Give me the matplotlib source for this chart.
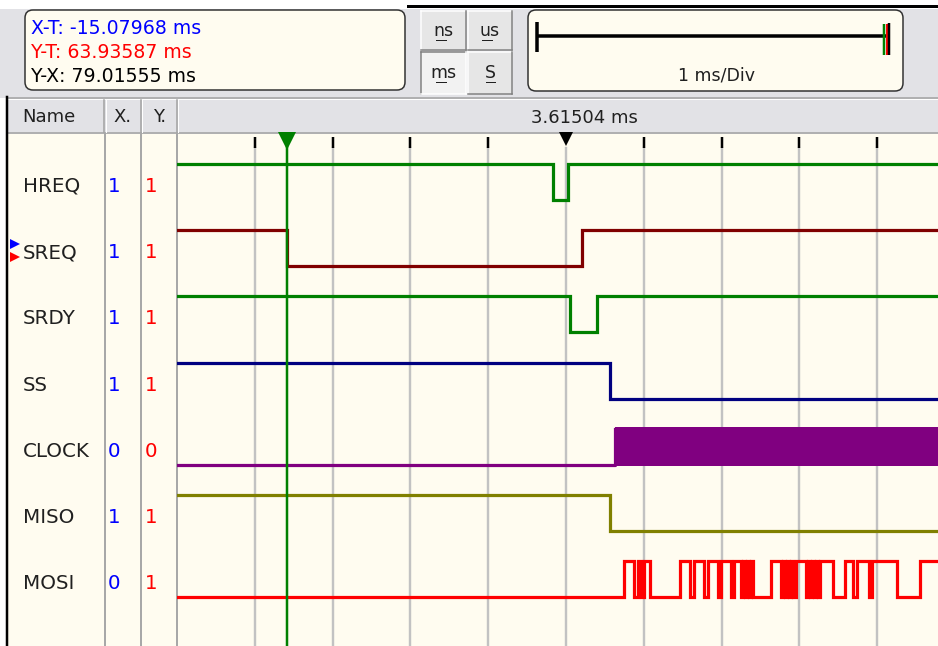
import numpy as np
import matplotlib
matplotlib.use("Agg")
import matplotlib.pyplot as plt
from matplotlib.patches import Rectangle, FancyBboxPatch

# ---------------- data ----------------
channels = ["HREQ", "SREQ", "SRDY", "SS", "CLOCK", "MISO", "MOSI"]
x_values = [1, 1, 1, 1, 0, 1, 0]
y_values = [1, 1, 1, 1, 0, 1, 1]
colors = ["#008000", "#800000", "#008000", "#000080", "#800080", "#808000", "#FF0000"]
initial_levels = [1, 1, 1, 1, 0, 1, 0]

hreq_edges = [4.83, 5.03]
sreq_edges = [1.41, 5.21]
srdy_edges = [5.05, 5.40]
ss_edges = [5.57]
clock_edges = []
clock_burst = [5.63, 9.79]
miso_edges = [5.57]
mosi_edges = [5.746, 5.874, 5.925, 5.964, 6.003, 6.080, 6.465, 6.594, 6.645, 6.774,
              6.825, 6.954, 6.992, 7.121, 7.160, 7.249, 7.275, 7.301, 7.326, 7.352,
              7.378, 7.404, 7.635, 7.763, 7.789, 7.815, 7.841, 7.866, 7.892, 7.918,
              7.956, 8.085, 8.111, 8.136, 8.162, 8.188, 8.213, 8.239, 8.265, 8.432,
              8.586, 8.689, 8.740, 8.895, 8.933, 9.254, 9.550]
edge_lists = [hreq_edges, sreq_edges, srdy_edges, ss_edges, clock_edges, miso_edges, mosi_edges]

x_cursor_ms = 1.41
y_marker_ms = 5.00
grid_ms = [1, 2, 3, 4, 5, 6, 7, 8, 9]

readouts = ["X-T: -15.07968 ms", "Y-T: 63.93587 ms", "Y-X: 79.01555 ms"]
readout_colors = ["#0000FF", "#FF0000", "#000000"]
time_label = "3.61504 ms"
scale_label = "1 ms/Div"
unit_buttons = ["ns", "us", "ms", "S"]
header_cols = ["Name", "X.", "Y."]

# ---------------- layout ----------------
W, H = 938, 646
PX_PER_MS = 77.8
WAVE_LEFT = 177
PT = 0.72  # points per pixel at 100 dpi

CREAM = "#FFFCF0"
PANEL = "#E2E2E6"
GRIDC = "#C2C2C2"

plt.rcParams["font.family"] = ["DejaVu Sans"]

fig = plt.figure(figsize=(W / 100, H / 100), dpi=100)
fig.patch.set_facecolor("white")

bg = fig.add_axes([0, 0, 1, 1])
bg.set_xlim(0, W)
bg.set_ylim(H, 0)
bg.axis("off")

# top panel + header
bg.add_patch(Rectangle((0, 9), W, 89, facecolor=PANEL, edgecolor="none"))
bg.plot([408, W], [6, 6], color="black", lw=3 * PT)
bg.add_patch(Rectangle((8, 98), W - 8, 36, facecolor=PANEL, edgecolor="none"))
bg.plot([8, W], [97.5, 97.5], color="#A0A0A0", lw=1.5 * PT)
bg.plot([8, W], [99, 99], color="white", lw=1 * PT)
bg.plot([8, W], [133, 133], color="#A0A0A0", lw=1.5 * PT)
# cream signal area
bg.add_patch(Rectangle((8, 134), W - 8, H - 134, facecolor=CREAM, edgecolor="none"))
bg.plot([7, 7], [97, H], color="black", lw=2.5 * PT)

# readout box
bg.add_patch(FancyBboxPatch((25, 10), 380, 80, boxstyle="round,pad=0,rounding_size=8",
                            facecolor=CREAM, edgecolor="#303030", lw=1.5 * PT))
for i, (txt, col) in enumerate(zip(readouts, readout_colors)):
    bg.text(31, 28 + 24 * i, txt, color=col, fontsize=13.6, va="center", ha="left")

# unit buttons
btn_boxes = [(421, 11, 45, 39), (468, 11, 44, 39), (421, 52, 45, 42), (468, 52, 44, 42)]
for lbl, (bx, by, bw, bh) in zip(unit_buttons, btn_boxes):
    pressed = lbl == "ms"
    face = "#F2F2F2" if pressed else "#E6E6E6"
    bg.add_patch(Rectangle((bx, by), bw, bh, facecolor=face, edgecolor="none"))
    tl = "#808080" if pressed else "white"
    br = "white" if pressed else "#808080"
    bg.plot([bx, bx + bw], [by, by], color=tl, lw=1.5 * PT)
    bg.plot([bx, bx], [by, by + bh], color=tl, lw=1.5 * PT)
    bg.plot([bx, bx + bw], [by + bh, by + bh], color=br, lw=1.5 * PT)
    bg.plot([bx + bw, bx + bw], [by, by + bh], color=br, lw=1.5 * PT)
    cx, cy = bx + bw / 2, by + bh / 2
    bg.text(cx, cy, lbl, fontsize=12.5, ha="center", va="center", color="#202020")
    uw = 10 if lbl != "S" else 9
    ux0 = cx - (8 if len(lbl) == 2 else 4.5)
    bg.plot([ux0, ux0 + uw], [cy + 9, cy + 9], color="#202020", lw=1 * PT)

# scale box
bg.add_patch(FancyBboxPatch((528, 10), 375, 81, boxstyle="round,pad=0,rounding_size=8",
                            facecolor=CREAM, edgecolor="#303030", lw=1.5 * PT))
bg.plot([536, 888], [36, 36], color="black", lw=3.5 * PT, solid_capstyle="butt")
bg.plot([537, 537], [22, 52], color="black", lw=3.5 * PT, solid_capstyle="butt")
bg.plot([884, 884], [24, 55], color="#008000", lw=2.5 * PT, solid_capstyle="butt")
bg.plot([886.5, 886.5], [24, 55], color="#FF0000", lw=2 * PT, solid_capstyle="butt")
bg.plot([889, 889], [23, 55], color="black", lw=2.5 * PT, solid_capstyle="butt")
bg.text(717, 75, scale_label, fontsize=12.5, ha="center", va="center", color="#202020")

# header
bg.text(22, 117, header_cols[0], fontsize=13, ha="left", va="center", color="#202020")
bg.text(123, 117, header_cols[1], fontsize=13, ha="center", va="center", color="#202020")
bg.text(160, 117, header_cols[2], fontsize=13, ha="center", va="center", color="#202020")
for sx in [104, 140.5, 176.5]:
    bg.plot([sx, sx], [100, 132], color="#A0A0A0", lw=1.5 * PT)
    bg.plot([sx + 1.5, sx + 1.5], [100, 132], color="white", lw=1 * PT)
    bg.plot([sx + 0.5, sx + 0.5], [134, H], color="#A8A8A8", lw=2 * PT)
bg.text(WAVE_LEFT + (W - WAVE_LEFT) * 0.535, 118, time_label, fontsize=13,
        ha="center", va="center", color="#202020")

# channel names and values
ROW0, ROWSTEP = 186.5, 66.2
for i, name in enumerate(channels):
    cy = ROW0 + ROWSTEP * i
    bg.text(23, cy, name, fontsize=14.3, ha="left", va="center", color="#202020")
    bg.text(114, cy, str(x_values[i]), fontsize=14.3, ha="center", va="center", color="#0000FF")
    bg.text(151, cy, str(y_values[i]), fontsize=14.3, ha="center", va="center", color="#FF0000")
# cursor indicators next to SREQ
sreq_y = ROW0 + ROWSTEP * channels.index("SREQ")
bg.plot([15], [sreq_y - 9], marker=">", color="#0000FF", markersize=7, markeredgewidth=0)
bg.plot([15], [sreq_y + 4], marker=">", color="#FF0000", markersize=7, markeredgewidth=0)

# ---------------- waveforms ----------------
wave = fig.add_axes([WAVE_LEFT / W, 0, (W - WAVE_LEFT) / W, 1])
xmax = (W - WAVE_LEFT) / PX_PER_MS
wave.set_xlim(0, xmax)
wave.set_ylim(H, 0)
wave.axis("off")
wave.patch.set_alpha(0)

for g in grid_ms:
    wave.plot([g, g], [148, H], color=GRIDC, lw=2.4 * PT, zorder=1)
    if abs(g - y_marker_ms) > 1e-6:
        wave.plot([g, g], [137, 148], color="black", lw=2.5 * PT, zorder=2,
                  solid_capstyle="butt")

HI, LO = -22.5, 13.5
LW = 3.2 * PT
for i, name in enumerate(channels):
    cy = ROW0 + ROWSTEP * i
    hi, lo = cy + HI, cy + LO
    col = colors[i]
    lvl = initial_levels[i]
    ts = [0.0]
    ys = [hi if lvl else lo]
    for e in edge_lists[i]:
        lvl = 1 - lvl
        ts.append(e)
        ys.append(hi if lvl else lo)
    if name == "CLOCK":
        ts.append(clock_burst[0])
        ys.append(hi)
        wave.plot(ts, ys, drawstyle="steps-post", color=col, lw=LW, zorder=3)
        wave.fill_between(clock_burst, hi - 1.5, lo + 1.5, color=col, lw=0, zorder=3)
    else:
        ts.append(xmax + 0.1)
        ys.append(ys[-1])
        wave.plot(ts, ys, drawstyle="steps-post", color=col, lw=LW, zorder=3,
                  solid_joinstyle="miter")

# cursors
wave.plot([x_cursor_ms, x_cursor_ms], [140, H], color="#008000", lw=2.5 * PT, zorder=4)
wave.plot([x_cursor_ms], [140.5], marker="v", color="#008000", markersize=13,
          markeredgewidth=0, zorder=5)
wave.plot([y_marker_ms], [139], marker="v", color="black", markersize=10,
          markeredgewidth=0, zorder=5)

fig.savefig("out.png", dpi=100, facecolor="white")
